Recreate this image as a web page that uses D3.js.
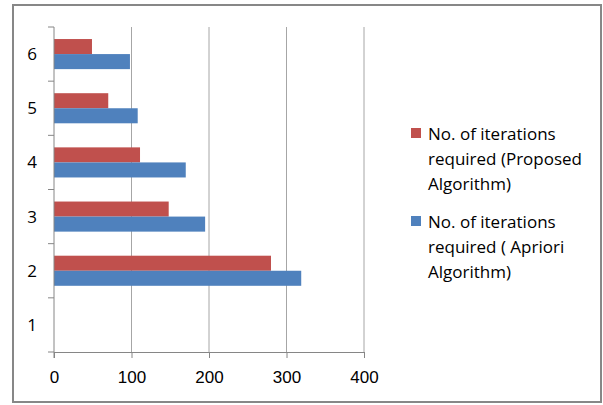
<!DOCTYPE html>
<html>
<head>
<meta charset="utf-8">
<script src="https://cdn.jsdelivr.net/npm/d3@7"></script>
<style>
  body { margin: 0; background: #fff; }
  svg { font-family: "Open Sans", "Liberation Sans", sans-serif; }
</style>
</head>
<body>
<svg id="chart" width="603" height="405"></svg>
<script>
// data
const categories = ["1", "2", "3", "4", "5", "6"];
const proposed = [0, 280, 148, 111, 70, 49];
const apriori = [0, 319, 195, 170, 108, 98];
const xTicks = [0, 100, 200, 300, 400];
const seriesNames = [
    ["No. of iterations", "required (Proposed", "Algorithm)"],
    ["No. of iterations", "required ( Apriori", "Algorithm)"]
];
const colors = ["#c0504d", "#4f81bd"];

const svg = d3.select('#chart');

// outer frame
svg.append('rect')
    .attr('x', 13).attr('y', 5)
    .attr('width', 588).attr('height', 397)
    .attr('fill', 'none')
    .attr('stroke', '#878787')
    .attr('stroke-width', 2);

const plot = { left: 54, right: 364, top: 27, bottom: 352 };

const x = d3.scaleLinear()
    .domain([0, 400])
    .range([plot.left, plot.right]);

// category 1 at the bottom, 6 at the top
const y = d3.scaleBand()
    .domain(categories)
    .range([plot.bottom, plot.top]);

const inner = d3.scaleBand()
    .domain(["proposed", "apriori"])
    .range([0, y.bandwidth()])
    .paddingOuter(0.8);

// vertical gridlines
svg.append('g')
    .selectAll('line')
    .data(xTicks.slice(1))
    .join('line')
    .attr('x1', d => x(d)).attr('x2', d => x(d))
    .attr('y1', plot.top).attr('y2', plot.bottom)
    .attr('stroke', '#a6a6a6')
    .attr('stroke-width', 1);

// bars
const groups = svg.append('g')
    .selectAll('g')
    .data(categories)
    .join('g')
    .attr('transform', d => `translate(0,${y(d)})`);

groups.append('rect')
    .attr('x', x(0))
    .attr('y', inner('proposed'))
    .attr('height', inner.bandwidth())
    .attr('width', (d, i) => x(proposed[i]) - x(0))
    .attr('fill', colors[0]);

groups.append('rect')
    .attr('x', x(0))
    .attr('y', inner('apriori'))
    .attr('height', inner.bandwidth())
    .attr('width', (d, i) => x(apriori[i]) - x(0))
    .attr('fill', colors[1]);

// x axis
const xAxis = svg.append('g')
    .attr('transform', `translate(0,${plot.bottom})`)
    .call(d3.axisBottom(x).tickValues(xTicks).tickSize(6).tickSizeOuter(0).tickPadding(13));
xAxis.select('.domain').attr('stroke', '#868686');
xAxis.selectAll('.tick line').attr('stroke', '#868686');
xAxis.selectAll('.tick text')
    .attr('fill', '#000')
    .style('font-size', '17px');

// y axis, ticks sit on the band edges
const yAxis = svg.append('g')
    .attr('transform', `translate(${plot.left},0)`);
yAxis.append('line')
    .attr('x1', 0).attr('x2', 0)
    .attr('y1', plot.top).attr('y2', plot.bottom + 6)
    .attr('stroke', '#868686');
yAxis.selectAll('.edge')
    .data(categories.concat(["top"]))
    .join('line')
    .attr('class', 'edge')
    .attr('x1', -6).attr('x2', 0)
    .attr('y1', d => d === "top" ? plot.top : y(d) + y.bandwidth())
    .attr('y2', d => d === "top" ? plot.top : y(d) + y.bandwidth())
    .attr('stroke', '#868686');
yAxis.selectAll('text')
    .data(categories)
    .join('text')
    .attr('x', -17)
    .attr('y', d => y(d) + y.bandwidth() / 2)
    .attr('dy', '0.35em')
    .attr('text-anchor', 'end')
    .style('font-size', '17px')
    .text(d => d);

// legend
const legend = svg.append('g');
seriesNames.forEach((lines, i) => {
    const top = 128 + i * 88;
    legend.append('rect')
        .attr('x', 411).attr('y', top)
        .attr('width', 10).attr('height', 10)
        .attr('fill', colors[i]);
    lines.forEach((t, j) => {
        legend.append('text')
            .attr('x', 428)
            .attr('y', top + 6 + j * 25)
            .attr('dy', '0.35em')
            .style('font-size', '17px')
            .text(t);
    });
});
</script>
</body>
</html>
